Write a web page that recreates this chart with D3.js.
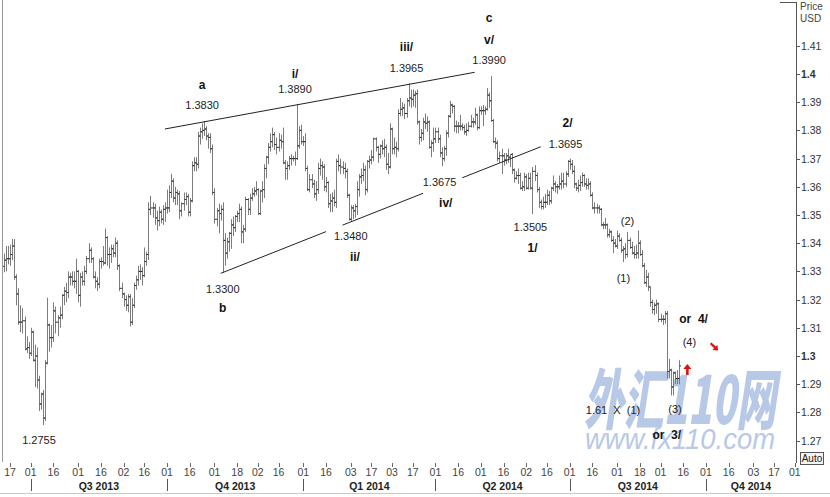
<!DOCTYPE html>
<html><head><meta charset="utf-8">
<script src="https://cdn.jsdelivr.net/npm/d3@7"></script>
<style>
html,body{margin:0;padding:0;background:#fff;}
svg{display:block;font-family:"Liberation Sans",Arial,sans-serif;}
</style></head><body>
<svg id="c" width="830" height="497"></svg>
<script>
// ---------- DATA (EUR/USD daily OHLC, trading days from 2013-06-12) ----------
const firstDay = "2013-06-12";
const open = [
1.3318,1.3340,1.3345,1.3345,1.3360,1.3390,1.3280,1.3220,1.3120,1.3120,1.3125,1.3025,1.3030,
1.3010,1.3085,1.2985,1.3000,1.2915,1.2830,1.2865,1.2780,1.2975,1.3110,1.3065,1.3065,1.3160,1.3120,1.3135,1.3145,1.3215,1.3230,1.3225,1.3280,1.3280,1.3265,1.3265,
1.3300,1.3215,1.3280,1.3265,1.3300,1.3345,1.3375,1.3345,1.3280,1.3265,1.3255,1.3335,1.3335,1.3330,1.3420,1.3360,1.3360,1.3380,1.3365,1.3400,1.3320,1.3240,
1.3220,1.3200,1.3180,1.3210,1.3120,1.3180,1.3250,1.3270,1.3300,1.3300,1.3285,1.3335,1.3360,1.3520,1.3525,1.3525,1.3490,1.3480,1.3510,1.3485,1.3520,
1.3525,1.3525,1.3580,1.3620,1.3560,1.3580,1.3575,1.3515,1.3540,1.3555,1.3565,1.3510,1.3550,1.3675,1.3685,1.3680,1.3780,1.3795,1.3800,1.3805,1.3780,1.3775,1.3735,
1.3580,1.3485,1.3515,1.3505,1.3520,1.3410,1.3365,1.3405,1.3435,1.3465,1.3455,1.3495,1.3505,1.3520,1.3440,1.3450,1.3555,1.3520,1.3560,1.3575,1.3585,
1.3590,1.3505,1.3585,1.3590,1.3665,1.3705,1.3740,1.3760,1.3785,1.3750,1.3740,1.3765,1.3760,1.3685,1.3665,1.3675,1.3700,1.3700,1.3700,1.3700,1.3745,1.3800,
1.3760,1.3760,1.3665,1.3590,1.3625,1.3610,1.3575,1.3590,1.3665,1.3675,1.3670,1.3600,1.3615,1.3540,1.3550,1.3560,1.3545,1.3690,1.3675,1.3670,1.3665,1.3655,1.3570,
1.3485,1.3525,1.3515,1.3530,1.3590,1.3635,1.3640,1.3660,1.3590,1.3690,1.3695,1.3705,1.3770,1.3740,1.3715,1.3745,1.3735,1.3740,1.3680,1.3670,
1.3805,1.3735,1.3740,1.3735,1.3860,1.3875,1.3880,1.3860,1.3905,1.3915,1.3910,1.3925,1.3930,1.3830,1.3775,1.3790,1.3830,1.3825,1.3830,1.3740,1.3755,
1.3770,1.3795,1.3770,1.3720,1.3700,1.3735,1.3790,1.3850,1.3890,1.3885,1.3815,1.3815,1.3815,1.3815,1.3810,1.3795,1.3800,1.3815,1.3830,1.3830,1.3855,1.3810,
1.3870,1.3870,1.3870,1.3875,1.3925,1.3905,1.3835,1.3760,1.3755,1.3700,1.3710,1.3710,1.3695,1.3710,1.3705,1.3715,1.3660,1.3630,1.3640,1.3640,1.3595,1.3600,
1.3635,1.3595,1.3630,1.3595,1.3655,1.3640,1.3590,1.3545,1.3530,1.3545,1.3545,1.3570,1.3550,1.3595,1.3610,1.3600,1.3600,1.3610,1.3620,1.3610,1.3645,
1.3690,1.3680,1.3655,1.3610,1.3595,1.3605,1.3615,1.3640,1.3610,1.3605,1.3610,1.3570,1.3525,1.3525,1.3525,1.3520,1.3465,1.3465,1.3465,1.3430,1.3440,1.3410,1.3400,
1.3390,1.3425,1.3410,1.3375,1.3380,1.3360,1.3410,1.3385,1.3365,1.3360,1.3365,1.3400,1.3360,1.3320,1.3260,1.3280,1.3245,1.3190,1.3165,1.3180,1.3185,
1.3130,1.3130,1.3130,1.3150,1.2945,1.2950,1.2890,1.2940,1.2920,1.2920];
const high = [
1.3363,1.3390,1.3390,1.3395,1.3415,1.3415,1.3290,1.3240,1.3180,1.3170,1.3140,1.3070,1.3050,
1.3100,1.3090,1.3040,1.3030,1.2930,1.2870,1.2880,1.2985,1.3207,1.3115,1.3110,1.3190,1.3175,1.3145,1.3175,1.3220,1.3245,1.3260,1.3300,1.3295,1.3300,1.3300,1.3345,
1.3305,1.3295,1.3300,1.3320,1.3355,1.3400,1.3385,1.3350,1.3300,1.3280,1.3345,1.3350,1.3390,1.3452,1.3425,1.3385,1.3395,1.3395,1.3420,1.3410,1.3325,1.3260,
1.3225,1.3215,1.3220,1.3220,1.3205,1.3260,1.3285,1.3320,1.3325,1.3315,1.3385,1.3370,1.3545,1.3568,1.3545,1.3540,1.3515,1.3530,1.3520,1.3535,1.3545,
1.3590,1.3605,1.3646,1.3630,1.3600,1.3590,1.3585,1.3545,1.3580,1.3580,1.3575,1.3560,1.3690,1.3705,1.3705,1.3795,1.3810,1.3825,1.3832,1.3815,1.3790,1.3790,1.3750,
1.3595,1.3525,1.3540,1.3535,1.3545,1.3435,1.3420,1.3440,1.3485,1.3495,1.3500,1.3515,1.3540,1.3530,1.3465,1.3565,1.3560,1.3575,1.3595,1.3600,1.3620,
1.3595,1.3590,1.3620,1.3680,1.3710,1.3755,1.3790,1.3810,1.3795,1.3775,1.3790,1.3785,1.3810,1.3695,1.3690,1.3710,1.3715,1.3710,1.3725,1.3893,1.3815,1.3820,
1.3780,1.3790,1.3675,1.3645,1.3645,1.3625,1.3620,1.3685,1.3700,1.3690,1.3680,1.3635,1.3620,1.3575,1.3580,1.3590,1.3700,1.3715,1.3700,1.3690,1.3685,1.3665,1.3575,
1.3535,1.3535,1.3540,1.3620,1.3645,1.3665,1.3685,1.3675,1.3695,1.3710,1.3730,1.3775,1.3775,1.3745,1.3750,1.3765,1.3770,1.3750,1.3720,1.3825,
1.3810,1.3775,1.3760,1.3875,1.3915,1.3900,1.3895,1.3915,1.3967,1.3945,1.3945,1.3940,1.3945,1.3835,1.3805,1.3845,1.3860,1.3850,1.3835,1.3765,1.3810,
1.3810,1.3810,1.3785,1.3740,1.3745,1.3800,1.3855,1.3905,1.3895,1.3890,1.3835,1.3830,1.3855,1.3825,1.3820,1.3825,1.3830,1.3855,1.3845,1.3880,1.3860,1.3885,
1.3885,1.3890,1.3885,1.3950,1.3935,1.3993,1.3840,1.3775,1.3765,1.3725,1.3735,1.3720,1.3720,1.3735,1.3715,1.3720,1.3665,1.3655,1.3665,1.3650,1.3620,1.3650,
1.3645,1.3650,1.3650,1.3670,1.3677,1.3650,1.3600,1.3555,1.3565,1.3575,1.3590,1.3585,1.3600,1.3640,1.3620,1.3610,1.3640,1.3650,1.3650,1.3655,1.3695,
1.3700,1.3695,1.3675,1.3615,1.3625,1.3640,1.3650,1.3645,1.3630,1.3630,1.3620,1.3580,1.3545,1.3540,1.3535,1.3525,1.3475,1.3490,1.3470,1.3450,1.3445,1.3425,1.3415,
1.3445,1.3435,1.3420,1.3390,1.3400,1.3440,1.3420,1.3405,1.3390,1.3395,1.3445,1.3410,1.3375,1.3330,1.3305,1.3295,1.3245,1.3200,1.3190,1.3200,1.3190,
1.3150,1.3145,1.3160,1.3160,1.2990,1.2955,1.2945,1.2945,1.2950,1.2985];
const low = [
1.3297,1.3300,1.3325,1.3320,1.3340,1.3270,1.3180,1.3110,1.3085,1.3080,1.3020,1.3010,1.2990,
1.3000,1.2980,1.2890,1.2885,1.2805,1.2810,1.2755,1.2770,1.2970,1.3015,1.3030,1.3050,1.3080,1.3070,1.3100,1.3130,1.3180,1.3190,1.3205,1.3250,1.3250,1.3240,1.3220,
1.3190,1.3175,1.3250,1.3250,1.3290,1.3330,1.3330,1.3275,1.3240,1.3230,1.3240,1.3310,1.3320,1.3325,1.3320,1.3310,1.3330,1.3350,1.3350,1.3305,1.3230,1.3205,
1.3175,1.3160,1.3155,1.3105,1.3110,1.3170,1.3235,1.3250,1.3270,1.3250,1.3280,1.3320,1.3340,1.3500,1.3490,1.3465,1.3445,1.3460,1.3470,1.3465,1.3475,
1.3505,1.3510,1.3560,1.3545,1.3535,1.3535,1.3485,1.3495,1.3515,1.3535,1.3495,1.3495,1.3545,1.3655,1.3655,1.3665,1.3750,1.3770,1.3780,1.3765,1.3735,1.3720,1.3570,
1.3470,1.3460,1.3435,1.3480,1.3296,1.3320,1.3345,1.3370,1.3380,1.3425,1.3440,1.3475,1.3475,1.3400,1.3400,1.3440,1.3500,1.3500,1.3550,1.3565,1.3570,
1.3500,1.3500,1.3545,1.3560,1.3630,1.3680,1.3725,1.3740,1.3730,1.3715,1.3725,1.3735,1.3680,1.3625,1.3625,1.3660,1.3675,1.3690,1.3675,1.3695,1.3735,1.3750,
1.3745,1.3655,1.3585,1.3580,1.3595,1.3560,1.3550,1.3575,1.3640,1.3625,1.3585,1.3580,1.3525,1.3510,1.3510,1.3530,1.3525,1.3655,1.3645,1.3645,1.3630,1.3560,1.3480,
1.3477,1.3485,1.3490,1.3500,1.3565,1.3610,1.3620,1.3570,1.3580,1.3665,1.3680,1.3690,1.3725,1.3685,1.3700,1.3715,1.3705,1.3660,1.3645,1.3665,
1.3715,1.3715,1.3705,1.3725,1.3850,1.3850,1.3840,1.3845,1.3885,1.3880,1.3885,1.3880,1.3820,1.3750,1.3760,1.3765,1.3805,1.3795,1.3735,1.3705,1.3725,
1.3755,1.3755,1.3705,1.3673,1.3690,1.3710,1.3775,1.3845,1.3860,1.3795,1.3790,1.3790,1.3800,1.3800,1.3785,1.3780,1.3795,1.3810,1.3810,1.3820,1.3800,1.3805,
1.3855,1.3815,1.3855,1.3870,1.3880,1.3830,1.3755,1.3735,1.3690,1.3685,1.3645,1.3675,1.3680,1.3685,1.3670,1.3645,1.3615,1.3625,1.3610,1.3590,1.3585,1.3585,
1.3590,1.3590,1.3590,1.3503,1.3620,1.3580,1.3525,1.3520,1.3520,1.3525,1.3535,1.3535,1.3540,1.3585,1.3580,1.3575,1.3590,1.3590,1.3595,1.3600,1.3635,
1.3660,1.3645,1.3595,1.3585,1.3580,1.3585,1.3600,1.3600,1.3590,1.3590,1.3565,1.3520,1.3505,1.3505,1.3505,1.3460,1.3450,1.3450,1.3420,1.3420,1.3405,1.3365,1.3385,
1.3380,1.3405,1.3365,1.3333,1.3345,1.3350,1.3380,1.3360,1.3345,1.3345,1.3345,1.3355,1.3315,1.3255,1.3245,1.3230,1.3175,1.3150,1.3145,1.3150,1.3120,
1.3120,1.3110,1.3115,1.2920,1.2920,1.2860,1.2860,1.2900,1.2900,1.2900];
const close = [
1.3340,1.3345,1.3345,1.3360,1.3390,1.3280,1.3220,1.3120,1.3120,1.3125,1.3025,1.3030,1.3010,
1.3085,1.2985,1.3000,1.2915,1.2830,1.2865,1.2780,1.2975,1.3110,1.3065,1.3065,1.3160,1.3120,1.3135,1.3145,1.3215,1.3230,1.3225,1.3280,1.3280,1.3265,1.3265,1.3300,
1.3215,1.3280,1.3265,1.3300,1.3345,1.3375,1.3345,1.3280,1.3265,1.3255,1.3335,1.3335,1.3330,1.3420,1.3360,1.3360,1.3380,1.3365,1.3400,1.3320,1.3240,1.3220,
1.3200,1.3180,1.3210,1.3120,1.3180,1.3250,1.3270,1.3300,1.3300,1.3285,1.3335,1.3360,1.3520,1.3525,1.3525,1.3490,1.3480,1.3510,1.3485,1.3520,1.3525,
1.3525,1.3580,1.3620,1.3560,1.3580,1.3575,1.3515,1.3540,1.3555,1.3565,1.3510,1.3550,1.3675,1.3685,1.3680,1.3780,1.3795,1.3800,1.3805,1.3780,1.3775,1.3735,1.3580,
1.3485,1.3515,1.3505,1.3520,1.3410,1.3365,1.3405,1.3435,1.3465,1.3455,1.3495,1.3505,1.3520,1.3440,1.3450,1.3555,1.3520,1.3560,1.3575,1.3585,1.3590,
1.3505,1.3585,1.3590,1.3665,1.3705,1.3740,1.3760,1.3785,1.3750,1.3740,1.3765,1.3760,1.3685,1.3665,1.3675,1.3700,1.3700,1.3700,1.3700,1.3745,1.3800,1.3760,
1.3760,1.3665,1.3590,1.3625,1.3610,1.3575,1.3590,1.3665,1.3675,1.3670,1.3600,1.3615,1.3540,1.3550,1.3560,1.3545,1.3690,1.3675,1.3670,1.3665,1.3655,1.3570,1.3485,
1.3525,1.3515,1.3530,1.3590,1.3635,1.3640,1.3660,1.3590,1.3690,1.3695,1.3705,1.3770,1.3740,1.3715,1.3745,1.3735,1.3740,1.3680,1.3670,1.3805,
1.3735,1.3740,1.3735,1.3860,1.3875,1.3880,1.3860,1.3905,1.3915,1.3910,1.3925,1.3930,1.3830,1.3775,1.3790,1.3830,1.3825,1.3830,1.3740,1.3755,1.3770,
1.3795,1.3770,1.3720,1.3700,1.3735,1.3790,1.3850,1.3890,1.3885,1.3815,1.3815,1.3815,1.3815,1.3810,1.3795,1.3800,1.3815,1.3830,1.3830,1.3855,1.3810,1.3870,
1.3870,1.3870,1.3875,1.3925,1.3905,1.3835,1.3760,1.3755,1.3700,1.3710,1.3710,1.3695,1.3710,1.3705,1.3715,1.3660,1.3630,1.3640,1.3640,1.3595,1.3600,1.3635,
1.3595,1.3630,1.3595,1.3655,1.3640,1.3590,1.3545,1.3530,1.3545,1.3545,1.3570,1.3550,1.3595,1.3610,1.3600,1.3600,1.3610,1.3620,1.3610,1.3645,1.3690,
1.3680,1.3655,1.3610,1.3595,1.3605,1.3615,1.3640,1.3610,1.3605,1.3610,1.3570,1.3525,1.3525,1.3525,1.3520,1.3465,1.3465,1.3465,1.3430,1.3440,1.3410,1.3400,1.3390,
1.3425,1.3410,1.3375,1.3380,1.3360,1.3410,1.3385,1.3365,1.3360,1.3365,1.3400,1.3360,1.3320,1.3260,1.3280,1.3245,1.3190,1.3165,1.3180,1.3185,1.3130,
1.3130,1.3130,1.3150,1.2945,1.2950,1.2890,1.2940,1.2920,1.2920,1.2965];

const tickDates = ["2013-06-17","2013-07-01","2013-07-16","2013-08-01","2013-08-16","2013-09-02","2013-09-16",
"2013-10-01","2013-10-16","2013-11-01","2013-11-18","2013-12-02","2013-12-16","2014-01-01","2014-01-16",
"2014-02-03","2014-02-17","2014-03-03","2014-03-17","2014-04-01","2014-04-16","2014-05-01","2014-05-16",
"2014-06-02","2014-06-16","2014-07-01","2014-07-16","2014-08-01","2014-08-18","2014-09-01","2014-09-16",
"2014-10-01","2014-10-16","2014-11-03","2014-11-17","2014-12-01"];
const quarterStarts = ["2013-07-01","2013-10-01","2014-01-01","2014-04-01","2014-07-01","2014-10-01"];
const quarterLabels = ["Q3 2013","Q4 2013","Q1 2014","Q2 2014","Q3 2014","Q4 2014"];
const priceTicks = [1.27,1.28,1.29,1.30,1.31,1.32,1.33,1.34,1.35,1.36,1.37,1.38,1.39,1.40,1.41];
const priceTickLabels = ["1.27","1.28","1.29","1.3","1.31","1.32","1.33","1.34","1.35","1.36","1.37","1.38","1.39","1.4","1.41"];
const boldTicks = ["1.3","1.4"];

// annotations: [text, date, price, bold]
const annotations = [
["a","2013-10-24",1.3961,true],["1.3830","2013-10-24",1.3890,false],
["b","2013-11-07",1.3169,true],["1.3300","2013-11-07",1.3237,false],
["i/","2013-12-26",1.4000,true],["1.3890","2013-12-26",1.3946,false],
["ii/","2014-02-05",1.3352,true],["1.3480","2014-02-03",1.3426,false],
["iii/","2014-03-12",1.4097,true],["1.3965","2014-03-12",1.4020,false],
["c","2014-05-07",1.4199,true],["v/","2014-05-07",1.4121,true],["1.3990","2014-05-07",1.4050,false],
["1.3675","2014-04-03",1.3618,false],["iv/","2014-04-08",1.3544,true],
["2/","2014-06-30",1.3827,true],["1.3695","2014-06-27",1.3752,false],
["1.3505","2014-06-04",1.3459,false],["1/","2014-06-05",1.3382,true],
["(2)","2014-08-08",1.3480,false],["(1)","2014-08-06",1.3276,false],
["or  4/","2014-09-23",1.3130,true],["(4)","2014-09-19",1.3049,false],
["1.61  X  (1)","2014-07-30",1.2809,false],["(3)","2014-09-10",1.2811,false],
["or  3/","2014-09-04",1.2720,true],["1.2755","2013-07-05",1.2702,false]];
// trend lines: segments [date1, price1, date2, price2]
const trendSegments = [
["2013-09-30",1.3805,"2014-04-28",1.4006],
["2013-11-06",1.3293,"2014-01-16",1.3441],
["2014-01-28",1.3464,"2014-03-24",1.3577],
["2014-04-18",1.3632,"2014-06-11",1.3742]];
const arrowsUp = [["2014-09-18",1.2950]];
const arrowsDownRight = [["2014-10-07",1.3033]];

// ---------- SCALES ----------
const fmt = d3.utcFormat("%Y-%m-%d");
const parse = d3.utcParse("%Y-%m-%d");
const tradingDays = d3.utcDay.range(parse(firstDay), parse("2014-12-06"))
  .filter(d => d.getUTCDay() !== 0 && d.getUTCDay() !== 6);
const dayIdx = new Map(tradingDays.map((d, i) => [fmt(d), i]));
const di = s => dayIdx.get(s);

const x = d3.scaleLinear().domain([0, 383]).range([3.86, 794.75]);
const y = d3.scaleLinear().domain([1.27, 1.41]).range([440.6, 45.8]);

const svg = d3.select("#c");
svg.append("rect").attr("width", 830).attr("height", 497).attr("fill", "#fff");

// watermark
const wm = svg.append("g").attr("opacity", 0.72);
wm.append("text").attr("x", 584).attr("y", 424)
  .attr("textLength", 192).attr("lengthAdjust", "spacingAndGlyphs")
  .attr("font-family", "'Noto Sans CJK SC', sans-serif").attr("font-weight", 900)
  .attr("font-style", "italic").attr("font-size", 66).attr("fill", "#9db3de")
  .text("外汇110网");
wm.append("text").attr("x", 585).attr("y", 449)
  .attr("textLength", 190).attr("lengthAdjust", "spacingAndGlyphs")
  .attr("font-style", "italic").attr("font-size", 30).attr("fill", "#9db3de")
  .text("www.fx110.com");

// frame
svg.append("line").attr("x1", 2.5).attr("x2", 2.5).attr("y1", 0).attr("y2", 462).attr("stroke", "#999");
svg.append("line").attr("x1", 796.5).attr("x2", 796.5).attr("y1", 2).attr("y2", 463).attr("stroke", "#555");
svg.append("line").attr("x1", 780).attr("x2", 796.5).attr("y1", 2.5).attr("y2", 2.5).attr("stroke", "#555");

// bars
const n = Math.min(open.length, high.length, low.length, close.length);
const bars = svg.append("g");
for (let i = 0; i < n; i++) {
  const cx = Math.round(x(i)) + 0.5;
  bars.append("line").attr("x1", cx).attr("x2", cx).attr("y1", y(high[i])).attr("y2", y(low[i]))
    .attr("stroke", "#7c7c7c").attr("stroke-width", 1);
  bars.append("line").attr("x1", cx - 1.5).attr("x2", cx).attr("y1", y(open[i])).attr("y2", y(open[i]))
    .attr("stroke", "#333").attr("stroke-width", 1);
  bars.append("line").attr("x1", cx).attr("x2", cx + 1.5).attr("y1", y(close[i])).attr("y2", y(close[i]))
    .attr("stroke", "#333").attr("stroke-width", 1);
}

// trend lines
svg.append("g").selectAll("line").data(trendSegments).join("line")
  .attr("x1", d => x(di(d[0]))).attr("y1", d => y(d[1]))
  .attr("x2", d => x(di(d[2]))).attr("y2", d => y(d[3]))
  .attr("stroke", "#222").attr("stroke-width", 1);

// annotations
svg.append("g").selectAll("text").data(annotations).join("text")
  .attr("x", d => x(di(d[1]))).attr("y", d => y(d[2]))
  .attr("text-anchor", "middle").attr("dominant-baseline", "central")
  .attr("font-size", d => d[3] ? 12 : 11)
  .attr("font-weight", d => d[3] ? "bold" : "normal")
  .attr("fill", d => d[3] ? "#111" : "#222")
  .style("white-space", "pre")
  .text(d => d[0]);

// red arrows
svg.append("g").selectAll("path").data(arrowsUp).join("path")
  .attr("transform", d => `translate(${x(di(d[0]))},${y(d[1])})`)
  .attr("d", "M0,-6 L4,-1 L1.3,-1 L1.3,5 L-1.3,5 L-1.3,-1 L-4,-1 Z")
  .attr("fill", "#e01010");
svg.append("g").selectAll("path").data(arrowsDownRight).join("path")
  .attr("transform", d => `translate(${x(di(d[0]))},${y(d[1])}) rotate(135)`)
  .attr("d", "M0,-5.5 L3.5,-1 L1.1,-1 L1.1,5 L-1.1,5 L-1.1,-1 L-3.5,-1 Z")
  .attr("fill", "#e01010");

// right price axis
const ax = svg.append("g");
priceTicks.forEach((p, i) => {
  ax.append("line").attr("x1", 796.5).attr("x2", 800).attr("y1", Math.round(y(p)) + 0.5).attr("y2", Math.round(y(p)) + 0.5).attr("stroke", "#555");
  ax.append("text").attr("x", 801).attr("y", y(p)).attr("dominant-baseline", "central")
    .attr("font-size", 10.5).attr("fill", "#333")
    .attr("font-weight", boldTicks.includes(priceTickLabels[i]) ? "bold" : "normal")
    .text(priceTickLabels[i]);
});
ax.append("text").attr("x", 800).attr("y", 10).attr("font-size", 10).attr("fill", "#444").text("Price");
ax.append("text").attr("x", 800).attr("y", 22).attr("font-size", 10).attr("fill", "#444").text("USD");
ax.append("rect").attr("x", 800.5).attr("y", 452.5).attr("width", 23).attr("height", 12).attr("fill", "#f4f4f4").attr("stroke", "#555");
ax.append("text").attr("x", 812).attr("y", 462).attr("text-anchor", "middle").attr("font-size", 10).attr("fill", "#222").text("Auto");

// bottom time axis
const bx = svg.append("g");
tickDates.forEach(s => {
  const tx = x(di(s));
  bx.append("line").attr("x1", Math.round(tx) + 0.5).attr("x2", Math.round(tx) + 0.5).attr("y1", 463).attr("y2", 467).attr("stroke", "#666");
  bx.append("text").attr("x", tx).attr("y", 476).attr("text-anchor", "middle")
    .attr("font-size", 10.5).attr("fill", "#444").text(s.slice(8, 10));
});
const qx = quarterStarts.map(s => x(di(s)));
qx.forEach(v => bx.append("line").attr("x1", Math.round(v) + 0.5).attr("x2", Math.round(v) + 0.5).attr("y1", 479).attr("y2", 491).attr("stroke", "#555"));
quarterLabels.forEach((q, i) => {
  const end = i < qx.length - 1 ? qx[i + 1] : 796;
  bx.append("text").attr("x", (qx[i] + end) / 2).attr("y", 489.5).attr("text-anchor", "middle")
    .attr("font-size", 10.5).attr("font-weight", "bold").attr("fill", "#222").text(q);
});
bx.append("line").attr("x1", 0).attr("x2", 830).attr("y1", 493.5).attr("y2", 493.5).attr("stroke", "#c8c8c8");
</script>
</body></html>
